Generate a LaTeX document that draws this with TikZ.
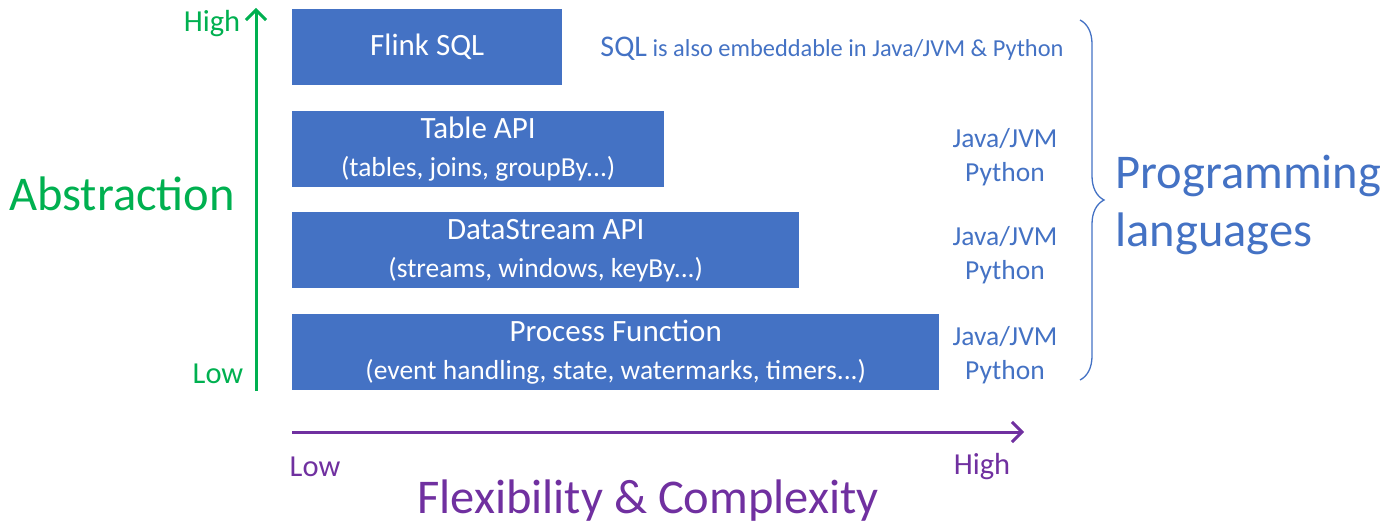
\documentclass[tikz,border=0pt]{standalone}
\usepackage{fontspec}
\setmainfont{Carlito}
\usetikzlibrary{positioning}
\usetikzlibrary{arrows.meta,decorations.pathreplacing}

\definecolor{apiblue}{HTML}{4472C4}
\definecolor{absgreen}{HTML}{00B050}
\definecolor{flexpurple}{HTML}{7030A0}

\tikzset{
  layer/.style={fill=apiblue, text=white, anchor=north west, align=center, inner sep=0pt, minimum height=76pt},
  lang/.style={text=apiblue, align=center, font=\fontsize{27.5}{34}\selectfont},
  tick/.style={font=\fontsize{30.5}{34}\selectfont},
  big/.style={font=\fontsize{48.5}{58}\selectfont},
  axis/.style={line width=3pt, -{Straight Barb[length=10pt,width=20pt,line width=3pt]}}
}

\newcommand{\sub}[1]{{\fontsize{27.5}{30}\selectfont #1}}
\newcommand{\etcdots}{.\kern0pt.\kern0pt.}

\begin{document}
\begin{tikzpicture}[x=1pt, y=-1pt]
	\useasboundingbox (0,0) rectangle (1396,526);
	\fontsize{31}{37}\selectfont

	% the four layers
	\node[layer, minimum width=270pt] (sql) at (292,9) {Flink SQL};
	\node[layer, minimum width=372pt] (table) at (292,111) {Table API\\[1pt]\sub{(tables, joins, groupBy\etcdots)}};
	\node[layer, minimum width=507pt] (stream) at (292,212) {DataStream API\\[1pt]\sub{(streams, windows, keyBy\etcdots)}};
	\node[layer, minimum width=647pt] (proc) at (292,314) {Process Function\\[1pt]\sub{(event handling, state, watermarks, timers\etcdots)}};

	% languages
	\node[text=apiblue, font=\fontsize{24.4}{30}\selectfont] (note) at (832,49) {{\fontsize{30}{36}\selectfont SQL} is also embeddable in Java/JVM \& Python};
	\node[lang] (tablang) at (1005,157) {Java/JVM\\Python};
	\node[lang] (streamlang) at (1005,255) {Java/JVM\\Python};
	\node[lang] (proclang) at (1005,355) {Java/JVM\\Python};

	\coordinate (btop) at (1080,20);
	\coordinate (bbot) at (1080,380);
	\draw[apiblue, line width=1.3pt, decorate, decoration={brace, amplitude=24pt}] (btop) -- (bbot);
	\node[text=apiblue, big, align=left, anchor=west] (prog) at (1105,205) {Programming\\languages};

	% abstraction axis
	\coordinate (a0) at (256,391);
	\coordinate (a1) at (256,8);
	\draw[absgreen, axis] (a0) -- (a1);
	\node[text=absgreen, tick] (ahigh) at (212,24) {High};
	\node[text=absgreen, tick] (alow) at (218,374) {Low};
	\node[text=absgreen, big] (abs) at (122,194) {Abstraction};

	% flexibility axis
	\coordinate (f0) at (292,432);
	\coordinate (f1) at (1024,432);
	\draw[flexpurple, axis] (f0) -- (f1);
	\node[text=flexpurple, tick] (flow) at (315,467) {Low};
	\node[text=flexpurple, tick] (fhigh) at (982,467) {High};
	\node[text=flexpurple, big] (flex) at (648,501) {Flexibility \& Complexity};
\end{tikzpicture}
\end{document}
